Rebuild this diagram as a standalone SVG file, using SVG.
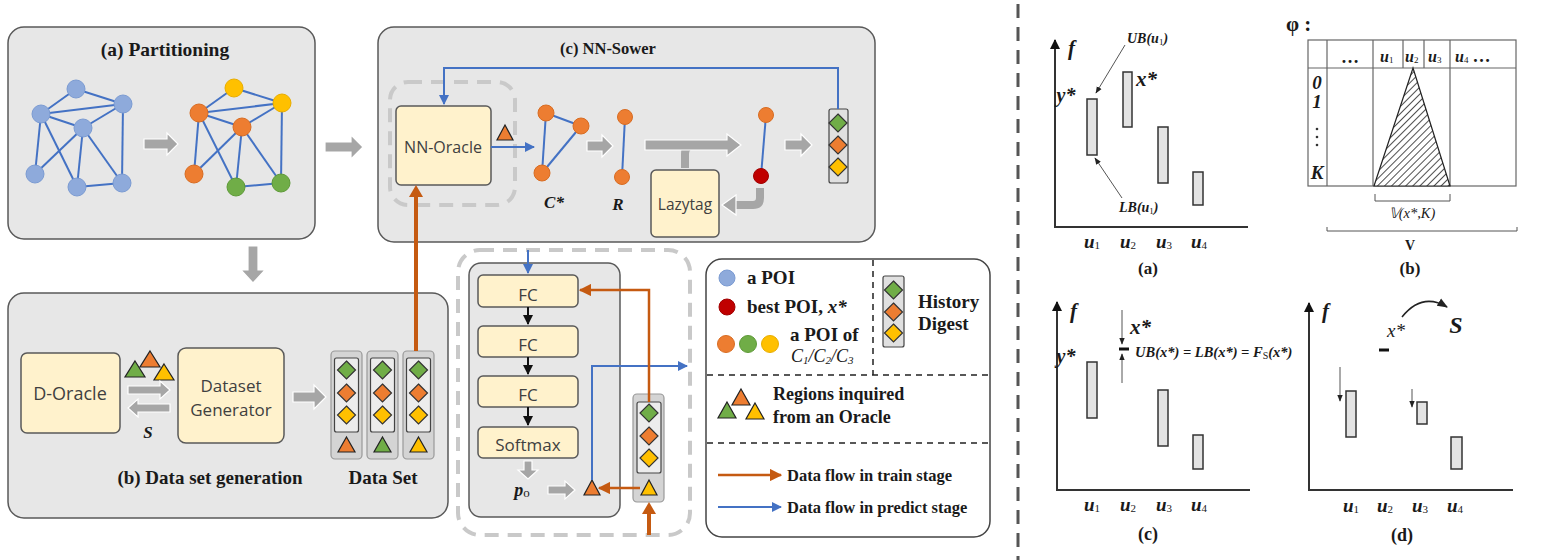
<svg xmlns="http://www.w3.org/2000/svg" width="1542" height="560" viewBox="0 0 1542 560">
<defs>
<style>
.panel{fill:#e7e7e7;stroke:#595959;stroke-width:1.5}
.ybox{fill:#fff2cc;stroke:#595959;stroke-width:1.5}
.lbl{font-family:"Open Sans","Noto Sans",sans-serif;fill:#404040;text-anchor:middle}
.ttl{font-family:"Liberation Serif",serif;font-weight:bold;fill:#1a1a1a;text-anchor:middle}
.bs{font-family:"Liberation Serif",serif;font-weight:bold;fill:#1a1a1a}
.bi{font-family:"Liberation Serif",serif;font-weight:bold;font-style:italic;fill:#1a1a1a}
.it{font-family:"Liberation Serif",serif;font-style:italic;fill:#1a1a1a}
.sub{font-style:normal;font-weight:normal}
.edge{stroke:#4472c4;stroke-width:2;fill:none}
.nb{fill:#8eaadb;stroke:#7b9bd2;stroke-width:1}
.no{fill:#ed7d31;stroke:#d86c22;stroke-width:1}
.ng{fill:#70ad47;stroke:#5e9a38;stroke-width:1}
.ny{fill:#ffc000;stroke:#e8ad00;stroke-width:1}
.nr{fill:#c00000;stroke:#a00000;stroke-width:1}
.garrow{fill:#a6a6a6;stroke:#ffffff;stroke-width:1.2}
.gline{stroke:#a6a6a6;stroke-width:8;fill:none}
.dash{fill:none;stroke:#c9c9c9;stroke-width:4;stroke-dasharray:14 9}
.blue{stroke:#4472c4;stroke-width:2;fill:none}
.orng{stroke:#c55a11;stroke-width:2.5;fill:none}
.ldash{stroke:#222;stroke-width:1.5;stroke-dasharray:6 5;fill:none}
.dg{stroke:#333;stroke-width:1.2}
.ax{stroke:#333;stroke-width:2;fill:none}
.bar{fill:#e3e3e3;stroke:#333;stroke-width:1.5}
.thin{stroke:#555;stroke-width:1;fill:none}
.tbl{stroke:#666;stroke-width:1.2;fill:none}
</style>
<marker id="mb" viewBox="0 0 10 10" refX="9" refY="5" markerWidth="5" markerHeight="5" orient="auto-start-reverse"><path d="M0,0 L10,5 L0,10 z" fill="#4472c4"/></marker>
<marker id="mo" viewBox="0 0 10 10" refX="9" refY="5" markerWidth="5" markerHeight="5" orient="auto-start-reverse"><path d="M0,0 L10,5 L0,10 z" fill="#c55a11"/></marker>
<marker id="mk" viewBox="0 0 10 10" refX="9" refY="5" markerWidth="5" markerHeight="5" orient="auto"><path d="M0,0 L10,5 L0,10 z" fill="#111"/></marker>
<marker id="mt" viewBox="0 0 10 10" refX="9" refY="5" markerWidth="7" markerHeight="7" orient="auto"><path d="M0,1 L10,5 L0,9 z" fill="#222"/></marker>
<pattern id="hatch" width="5" height="5" patternUnits="userSpaceOnUse" patternTransform="rotate(45)"><rect width="5" height="5" fill="#fff"/><line x1="0" y1="0" x2="0" y2="5" stroke="#222" stroke-width="1.6"/></pattern>
<g id="dia"><path d="M0,-9 L9,0 L0,9 L-9,0 z" class="dg"/></g>
</defs>
<rect width="1542" height="560" fill="#ffffff"/>

<!-- (a) Partitioning -->
<g id="partitioning">
<rect class="panel" x="8" y="27" width="307" height="212" rx="16"/>
<text class="ttl" x="165" y="56" font-size="19.5">(a) Partitioning</text>
<g class="edge">
<line x1="76" y1="89" x2="41" y2="114"/><line x1="76" y1="89" x2="123" y2="104"/><line x1="41" y1="114" x2="123" y2="104"/>
<line x1="41" y1="114" x2="83" y2="128"/><line x1="83" y1="128" x2="123" y2="104"/><line x1="41" y1="114" x2="35" y2="174"/>
<line x1="41" y1="114" x2="77" y2="187"/><line x1="83" y1="128" x2="35" y2="174"/><line x1="83" y1="128" x2="77" y2="187"/>
<line x1="83" y1="128" x2="122" y2="183"/><line x1="123" y1="104" x2="122" y2="183"/><line x1="77" y1="187" x2="122" y2="183"/>
</g>
<g class="nb"><circle cx="76" cy="89" r="9"/><circle cx="41" cy="114" r="9"/><circle cx="123" cy="104" r="9"/><circle cx="83" cy="128" r="9"/><circle cx="35" cy="174" r="9"/><circle cx="77" cy="187" r="9"/><circle cx="122" cy="183" r="9"/></g>
<path class="garrow" d="M144,139 H167 V133 L178,144 L167,155 V149 H144 Z"/>
<g class="edge">
<line x1="234" y1="88" x2="199" y2="113"/><line x1="234" y1="88" x2="282" y2="103"/><line x1="199" y1="113" x2="282" y2="103"/>
<line x1="199" y1="113" x2="242" y2="127"/><line x1="242" y1="127" x2="282" y2="103"/><line x1="199" y1="113" x2="194" y2="174"/>
<line x1="199" y1="113" x2="236" y2="187"/><line x1="242" y1="127" x2="194" y2="174"/><line x1="242" y1="127" x2="236" y2="187"/>
<line x1="242" y1="127" x2="281" y2="183"/><line x1="282" y1="103" x2="281" y2="183"/><line x1="236" y1="187" x2="281" y2="183"/>
</g>
<circle class="ny" cx="234" cy="88" r="9"/><circle class="no" cx="199" cy="113" r="9"/><circle class="ny" cx="282" cy="103" r="9"/><circle class="no" cx="242" cy="127" r="9"/><circle class="no" cx="194" cy="174" r="9"/><circle class="ng" cx="236" cy="187" r="9"/><circle class="ng" cx="281" cy="183" r="9"/>
</g>

<!-- (c) NN-Sower -->
<g id="nn-sower">
<rect class="panel" x="378" y="27" width="497" height="215" rx="16"/>
<text class="ttl" x="608" y="54" font-size="16.5">(c) NN-Sower</text>
</g>

<g id="nn-oracle">
<rect class="dash" x="390" y="82" width="125" height="123" rx="18"/>
<rect class="ybox" x="396" y="106" width="95" height="79" rx="5"/>
<text class="lbl" x="443" y="153" font-size="16">NN-Oracle</text>
<path d="M505,125 L513,140 L497,140 Z" fill="#ed7d31" stroke="#222" stroke-width="1.2"/>
</g>

<g id="cstar">
<g class="edge"><line x1="546" y1="113" x2="581" y2="126"/><line x1="546" y1="113" x2="542" y2="173"/><line x1="581" y1="126" x2="542" y2="173"/></g>
<circle class="no" cx="546" cy="113" r="8"/><circle class="no" cx="581" cy="126" r="8"/><circle class="no" cx="542" cy="173" r="8"/>
<text class="bi" x="554" y="208" font-size="17" text-anchor="middle">C*</text>
</g>
<g id="r">
<line class="edge" x1="625" y1="117" x2="622" y2="177"/>
<circle class="no" cx="625" cy="117" r="7.5"/><circle class="no" cx="622" cy="177" r="7.5"/>
<text class="bi" x="618" y="210" font-size="17" text-anchor="middle">R</text>
</g>
<g id="lazytag">
<rect class="ybox" x="651" y="170" width="68" height="67" rx="5"/>
<text class="lbl" x="685" y="210" font-size="15.5">Lazytag</text>
</g>
<g id="best">
<line class="edge" x1="766" y1="115" x2="761" y2="176"/>
<circle class="no" cx="766" cy="115" r="7.5"/><circle class="nr" cx="761" cy="176" r="7.5"/>
</g>
<g id="history-top">
<rect x="829" y="109" width="19" height="74" rx="2" fill="#e0e0e0" stroke="#444" stroke-width="1.2"/>
<use href="#dia" x="838" y="123" fill="#70ad47"/><use href="#dia" x="838" y="145" fill="#ed7d31"/><use href="#dia" x="838" y="167" fill="#ffc000"/>
</g>

<!-- (b) Data set generation -->
<g id="dataset-generation">
<rect class="panel" x="8" y="293" width="440" height="225" rx="16"/>
<text class="ttl" x="210" y="484" font-size="19">(b) Data set generation</text>
<text class="ttl" x="383" y="484" font-size="19">Data Set</text>
</g>
<g id="d-oracle">
<rect class="ybox" x="21" y="353" width="99" height="80" rx="6"/>
<text class="lbl" x="70" y="400" font-size="18">D-Oracle</text>
</g>
<g id="regions-b">
<path d="M135,361 L145,377 L125,377 Z" fill="#70ad47" stroke="#222" stroke-width="1.2"/>
<path d="M150,351 L160,367 L140,367 Z" fill="#ed7d31" stroke="#222" stroke-width="1.2"/>
<path d="M164,364 L174,380 L154,380 Z" fill="#ffc000" stroke="#222" stroke-width="1.2"/>
<text class="bi" x="148" y="438" font-size="17" text-anchor="middle">S</text>
</g>
<g id="dataset-generator">
<rect class="ybox" x="178" y="348" width="106" height="95" rx="8"/>
<text class="lbl" x="231" y="392" font-size="17">Dataset</text>
<text class="lbl" x="231" y="416" font-size="17">Generator</text>
</g>
<g id="dataset">
<g fill="#d4d4d4" stroke="#999" stroke-width="1.2">
<rect x="331" y="351" width="31" height="108" rx="4"/><rect x="367" y="351" width="31" height="108" rx="4"/><rect x="403" y="351" width="31" height="108" rx="4"/>
</g>
<g fill="#ececec" stroke="#444" stroke-width="1.2">
<rect x="334.5" y="358" width="24" height="74" rx="2"/><rect x="370.5" y="358" width="24" height="74" rx="2"/><rect x="406.5" y="358" width="24" height="74" rx="2"/>
</g>
<use href="#dia" x="346.5" y="370" fill="#70ad47"/><use href="#dia" x="346.5" y="393" fill="#ed7d31"/><use href="#dia" x="346.5" y="415" fill="#ffc000"/>
<use href="#dia" x="382.5" y="370" fill="#70ad47"/><use href="#dia" x="382.5" y="393" fill="#ed7d31"/><use href="#dia" x="382.5" y="415" fill="#ffc000"/>
<use href="#dia" x="418.5" y="370" fill="#70ad47"/><use href="#dia" x="418.5" y="393" fill="#ed7d31"/><use href="#dia" x="418.5" y="415" fill="#ffc000"/>
<path d="M346.5,437 L355,452 L338,452 Z" fill="#ed7d31" stroke="#222" stroke-width="1.2"/>
<path d="M382.5,437 L391,452 L374,452 Z" fill="#70ad47" stroke="#222" stroke-width="1.2"/>
<path d="M418.5,437 L427,452 L410,452 Z" fill="#ffc000" stroke="#222" stroke-width="1.2"/>
</g>

<!-- Model -->
<g id="model">
<rect class="dash" x="458" y="250" width="232" height="285" rx="22"/>
<rect class="panel" x="469" y="263" width="151" height="254" rx="12"/>
</g>
<g id="fc1"><rect class="ybox" x="478" y="275" width="100" height="32" rx="5"/><text class="lbl" x="528" y="301" font-size="17">FC</text></g>
<g id="fc2"><rect class="ybox" x="478" y="326" width="100" height="31" rx="5"/><text class="lbl" x="528" y="351" font-size="17">FC</text></g>
<g id="fc3"><rect class="ybox" x="478" y="376" width="100" height="31" rx="5"/><text class="lbl" x="528" y="401" font-size="17">FC</text></g>
<g id="softmax"><rect class="ybox" x="478" y="427" width="100" height="31" rx="5"/><text class="lbl" x="528" y="451" font-size="17">Softmax</text></g>
<g id="po">
<text class="bi" x="522" y="496" font-size="18" text-anchor="middle">p<tspan class="sub" font-style="italic" font-size="13" dy="1">o</tspan></text>
<path d="M592,480 L600,495 L584,495 Z" fill="#ed7d31" stroke="#222" stroke-width="1.2"/>
</g>
<g id="history-model">
<rect x="633" y="394" width="31" height="108" rx="4" fill="#d4d4d4" stroke="#999" stroke-width="1.2"/>
<rect x="637" y="402" width="24" height="71" rx="2" fill="#ececec" stroke="#444" stroke-width="1.2"/>
<use href="#dia" x="649" y="413" fill="#70ad47"/><use href="#dia" x="649" y="436" fill="#ed7d31"/><use href="#dia" x="649" y="458" fill="#ffc000"/>
<path d="M649,480 L657,495 L641,495 Z" fill="#ffc000" stroke="#222" stroke-width="1.2"/>
</g>

<!-- Legend -->
<g id="legend">
<rect x="706" y="259" width="284" height="278" rx="16" fill="#fff" stroke="#444" stroke-width="1.5"/>
<line class="ldash" x1="873" y1="260" x2="873" y2="375"/>
<line class="ldash" x1="707" y1="375" x2="989" y2="375"/>
<line class="ldash" x1="707" y1="443" x2="989" y2="443"/>
<circle class="nb" cx="727" cy="278" r="8"/>
<text class="bs" x="747" y="284" font-size="19">a POI</text>
<circle class="nr" cx="727" cy="307" r="8"/>
<text class="bs" x="747" y="313" font-size="19">best POI, <tspan class="it">x*</tspan></text>
<circle class="no" cx="726" cy="344" r="8.5"/><circle class="ng" cx="748" cy="344" r="8.5"/><circle class="ny" cx="770" cy="344" r="8.5"/>
<text class="bs" x="790" y="341" font-size="19">a POI of</text>
<text class="it" x="791" y="362" font-size="18">C<tspan font-size="11" dy="2">1</tspan><tspan dy="-2">/C</tspan><tspan font-size="11" dy="2">2</tspan><tspan dy="-2">/C</tspan><tspan font-size="11" dy="2">3</tspan></text>
<rect x="883" y="276" width="21" height="71" rx="2" fill="#e0e0e0" stroke="#444" stroke-width="1.2"/>
<use href="#dia" x="893.5" y="290" fill="#70ad47"/><use href="#dia" x="893.5" y="312" fill="#ed7d31"/><use href="#dia" x="893.5" y="333" fill="#ffc000"/>
<text class="bs" x="918" y="308" font-size="19">History</text>
<text class="bs" x="918" y="330" font-size="19">Digest</text>
<path d="M727,402 L736,418 L718,418 Z" fill="#70ad47" stroke="#222" stroke-width="1.2"/>
<path d="M741,389 L750,405 L732,405 Z" fill="#ed7d31" stroke="#222" stroke-width="1.2"/>
<path d="M755,403 L764,419 L746,419 Z" fill="#ffc000" stroke="#222" stroke-width="1.2"/>
<text class="bs" x="773" y="400" font-size="18">Regions inquired</text>
<text class="bs" x="773" y="423" font-size="18">from an Oracle</text>
<line class="orng" x1="718" y1="475" x2="781" y2="475" marker-end="url(#mo)"/>
<text class="bs" x="787" y="481" font-size="16.5">Data flow in train stage</text>
<line class="blue" x1="718" y1="507" x2="781" y2="507" marker-end="url(#mb)"/>
<text class="bs" x="787" y="513" font-size="16.5">Data flow in predict stage</text>
</g>

<!-- Connectors -->
<g id="connectors">
<path class="garrow" d="M325,142 H351 V135 L363,147 L351,159 V152 H325 Z"/>
<path class="garrow" d="M248,246 H258 V270 H265 L253,283 L241,270 H248 Z"/>
<polyline class="blue" points="838,109 838,68 444,68 444,104" marker-end="url(#mb)"/>
<line class="blue" x1="491" y1="147" x2="534" y2="147" marker-end="url(#mb)"/>
<path class="garrow" d="M587,141 H602 V135 L613,146 L602,157 V151 H587 Z"/>
<path class="gline" d="M685,168 V154 Q685,145 694,145"/>
<path class="garrow" d="M645,140 H727 V134 L741,145 L727,156 V150 H645 Z"/>
<path class="gline" d="M760,188 V198 Q760,205 753,205 H734"/>
<path class="garrow" d="M736,195 L722,205 L736,215 Z"/>
<path class="garrow" d="M785,140 H801 V134 L812,145 L801,156 V150 H785 Z"/>
<path class="garrow" d="M128,386 H160 V381 L170,390 L160,399 V394 H128 Z"/>
<path class="garrow" d="M170,404 H138 V399 L128,408 L138,417 V412 H170 Z"/>
<path class="garrow" d="M293,392 H314 V385 L326,397 L314,409 V402 H293 Z"/>
<line x1="416" y1="351" x2="416" y2="195" stroke="#c55a11" stroke-width="4"/>
<path d="M416,185 L423,197 L409,197 Z" fill="#c55a11"/>
<line class="blue" x1="528" y1="250" x2="528" y2="273" marker-end="url(#mb)"/>
<line x1="528" y1="307" x2="528" y2="324" stroke="#111" stroke-width="2" marker-end="url(#mk)"/>
<line x1="528" y1="357" x2="528" y2="374" stroke="#111" stroke-width="2" marker-end="url(#mk)"/>
<line x1="528" y1="407" x2="528" y2="425" stroke="#111" stroke-width="2" marker-end="url(#mk)"/>
<path class="garrow" d="M524,461 H532 V470 H538 L528,479 L518,470 H524 Z"/>
<path class="garrow" d="M548,486 H565 V481 L575,490 L565,499 V494 H548 Z"/>
<polyline class="blue" points="592,480 592,366 687,366" marker-end="url(#mb)"/>
<polyline class="orng" points="649,402 649,290 580,290" marker-end="url(#mo)"/>
<line class="orng" x1="640" y1="488" x2="599" y2="488" marker-end="url(#mo)"/>
<line x1="649" y1="535" x2="649" y2="512" stroke="#c55a11" stroke-width="4"/>
<path d="M649,502 L656,514 L642,514 Z" fill="#c55a11"/>
</g>

<!-- divider -->
<line x1="1018" y1="4" x2="1018" y2="560" stroke="#555" stroke-width="3" stroke-dasharray="14 9"/>

<!-- Chart (a) -->
<g id="chart-a">
<line class="ax" x1="1055" y1="227" x2="1055" y2="40" marker-end="url(#mk)"/>
<line class="ax" x1="1054" y1="227" x2="1248" y2="227"/>
<text class="bi" x="1068" y="55" font-size="21">f</text>
<rect class="bar" x="1087" y="99" width="10" height="56"/>
<rect class="bar" x="1123" y="72" width="9" height="55"/>
<rect class="bar" x="1158" y="127" width="10" height="56"/>
<rect class="bar" x="1193" y="172" width="10" height="33"/>
<text class="bi" x="1136" y="86" font-size="21">x*</text>
<text class="bi" x="1066" y="102" font-size="20" text-anchor="middle">y*</text>
<text class="bi" x="1127" y="43" font-size="14">UB(u<tspan class="sub" font-size="9" dy="2">1</tspan><tspan dy="-2">)</tspan></text>
<line class="thin" x1="1125" y1="45" x2="1096" y2="93" marker-end="url(#mt)"/>
<text class="bi" x="1119" y="212" font-size="14">LB(u<tspan class="sub" font-size="9" dy="2">1</tspan><tspan dy="-2">)</tspan></text>
<line class="thin" x1="1122" y1="198" x2="1095" y2="158" marker-end="url(#mt)"/>
<g class="bi" font-size="19">
<text x="1084" y="248">u<tspan class="sub" font-size="11" dy="1">1</tspan></text>
<text x="1120" y="248">u<tspan class="sub" font-size="11" dy="1">2</tspan></text>
<text x="1156" y="248">u<tspan class="sub" font-size="11" dy="1">3</tspan></text>
<text x="1191" y="248">u<tspan class="sub" font-size="11" dy="1">4</tspan></text>
</g>
<text class="ttl" x="1148" y="274" font-size="17" font-weight="normal">(a)</text>
</g>

<!-- Chart (b) -->
<g id="chart-b">
<text class="bs" x="1286" y="31" font-size="21">φ :</text>
<rect class="tbl" x="1308" y="40" width="208" height="146"/>
<line class="tbl" x1="1308" y1="68" x2="1516" y2="68"/>
<line class="tbl" x1="1327" y1="40" x2="1327" y2="186"/>
<line class="tbl" x1="1373" y1="40" x2="1373" y2="186"/>
<line class="tbl" x1="1450" y1="40" x2="1450" y2="186"/>
<line class="tbl" x1="1403" y1="40" x2="1403" y2="68"/>
<line class="tbl" x1="1424" y1="40" x2="1424" y2="68"/>
<path d="M1413,68 L1450,186 L1374,186 Z" fill="url(#hatch)" stroke="#222" stroke-width="1.2"/>
<text class="bs" x="1350" y="63" font-size="18" text-anchor="middle">…</text>
<g class="bi" font-size="16">
<text x="1380" y="62">u<tspan class="sub" font-size="9" dy="1">1</tspan></text>
<text x="1405" y="62">u<tspan class="sub" font-size="9" dy="1">2</tspan></text>
<text x="1428" y="62">u<tspan class="sub" font-size="9" dy="1">3</tspan></text>
<text x="1455" y="62">u<tspan class="sub" font-size="9" dy="1">4</tspan><tspan class="bs" font-style="normal" font-size="18" dx="4" dy="-1">…</tspan></text>
<text x="1317" y="89" text-anchor="middle" font-size="19">0</text>
<text x="1317" y="108" text-anchor="middle" font-size="19">1</text>
<text x="1317" y="179" text-anchor="middle" font-size="19">K</text>
</g>
<g fill="#333"><circle cx="1317" cy="129" r="1.3"/><circle cx="1317" cy="137" r="1.3"/><circle cx="1317" cy="145" r="1.3"/></g>
<path class="thin" d="M1375,194 V201 H1450 V194"/>
<text class="it" x="1412" y="218" font-size="14.5" text-anchor="middle">𝕍(x*,K)</text>
<path class="thin" d="M1327,227 V231 H1517 V227"/>
<text class="bs" x="1410" y="250" font-size="14" text-anchor="middle">V</text>
<text class="ttl" x="1410" y="274" font-size="17" font-weight="normal">(b)</text>
</g>

<!-- Chart (c) -->
<g id="chart-c">
<line class="ax" x1="1057" y1="490" x2="1057" y2="302" marker-end="url(#mk)"/>
<line class="ax" x1="1056" y1="490" x2="1250" y2="490"/>
<text class="bi" x="1070" y="318" font-size="21">f</text>
<rect class="bar" x="1087" y="362" width="10" height="56"/>
<rect class="bar" x="1158" y="390" width="10" height="56"/>
<rect class="bar" x="1193" y="435" width="10" height="34"/>
<line x1="1119" y1="349" x2="1129" y2="349" stroke="#111" stroke-width="3"/>
<line class="thin" x1="1122" y1="310" x2="1122" y2="344" marker-end="url(#mt)"/>
<line class="thin" x1="1122" y1="383" x2="1122" y2="354" marker-end="url(#mt)"/>
<text class="bi" x="1130" y="334" font-size="21">x*</text>
<text class="bi" x="1066" y="363" font-size="20" text-anchor="middle">y*</text>
<text class="bi" x="1135" y="357" font-size="14.5">UB(x*) = LB(x*) = F<tspan class="sub" font-style="italic" font-size="10" dy="2">S</tspan><tspan dy="-2">(x*)</tspan></text>
<g class="bi" font-size="19">
<text x="1084" y="511">u<tspan class="sub" font-size="11" dy="1">1</tspan></text>
<text x="1120" y="511">u<tspan class="sub" font-size="11" dy="1">2</tspan></text>
<text x="1156" y="511">u<tspan class="sub" font-size="11" dy="1">3</tspan></text>
<text x="1191" y="511">u<tspan class="sub" font-size="11" dy="1">4</tspan></text>
</g>
<text class="ttl" x="1148" y="540" font-size="18" font-weight="normal">(c)</text>
</g>

<!-- Chart (d) -->
<g id="chart-d">
<line class="ax" x1="1309" y1="490" x2="1309" y2="303" marker-end="url(#mk)"/>
<line class="ax" x1="1308" y1="490" x2="1513" y2="490"/>
<text class="bi" x="1322" y="318" font-size="21">f</text>
<rect class="bar" x="1346" y="391" width="10" height="46"/>
<rect class="bar" x="1417" y="402" width="10" height="22"/>
<rect class="bar" x="1451" y="437" width="11" height="32"/>
<line x1="1379" y1="350" x2="1389" y2="350" stroke="#111" stroke-width="3"/>
<line class="thin" x1="1340" y1="367" x2="1340" y2="401" marker-end="url(#mt)"/>
<line class="thin" x1="1412" y1="389" x2="1412" y2="407" marker-end="url(#mt)"/>
<text class="it" x="1387" y="337" font-size="19">x*</text>
<path d="M1402,317 Q1422,292 1447,307" fill="none" stroke="#222" stroke-width="1.5" marker-end="url(#mt)"/>
<text class="bi" x="1456" y="333" font-size="24" text-anchor="middle">S</text>
<g class="bi" font-size="19">
<text x="1343" y="512">u<tspan class="sub" font-size="11" dy="1">1</tspan></text>
<text x="1377" y="512">u<tspan class="sub" font-size="11" dy="1">2</tspan></text>
<text x="1412" y="512">u<tspan class="sub" font-size="11" dy="1">3</tspan></text>
<text x="1447" y="512">u<tspan class="sub" font-size="11" dy="1">4</tspan></text>
</g>
<text class="ttl" x="1402" y="541" font-size="18" font-weight="normal">(d)</text>
</g>
</svg>
